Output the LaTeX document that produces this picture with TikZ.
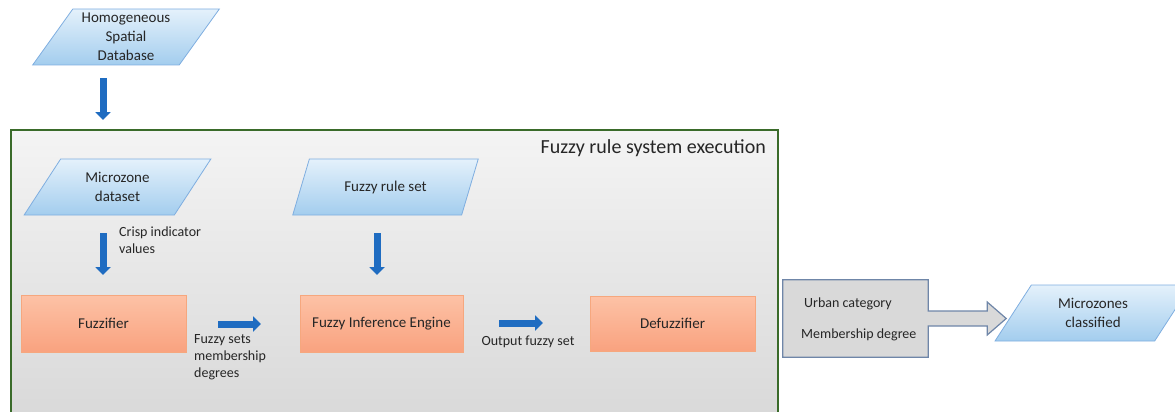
\documentclass[tikz,border=0pt]{standalone}
\usepackage{fontspec}
\setmainfont{Carlito}
\usetikzlibrary{shapes.geometric,arrows.meta,calc}
\definecolor{txt}{HTML}{262626}
\definecolor{parab}{HTML}{7FAEE0}
\definecolor{paratop}{HTML}{E4F1FB}
\definecolor{parabot}{HTML}{A3CDEE}
\definecolor{orb}{HTML}{F6A77E}
\definecolor{ortop}{HTML}{FDC2A6}
\definecolor{orbot}{HTML}{F9A27F}
\definecolor{arr}{HTML}{1F6CC1}
\definecolor{grn}{HTML}{3A6B2A}
\definecolor{gtop}{HTML}{F4F4F4}
\definecolor{gbot}{HTML}{D8D8D8}
\definecolor{outb}{HTML}{6F86A8}
\definecolor{outf}{HTML}{D9D9D9}
\begin{document}
\begin{tikzpicture}[x=1pt,y=-1pt,
  para/.style={trapezium, trapezium left angle=55, trapezium right angle=125,
    trapezium stretches=true, minimum width=187pt, minimum height=56pt,
    inner sep=0pt, draw=parab, line width=0.8pt, top color=paratop, bottom color=parabot,
    align=center, font=\fontsize{15}{19}\selectfont, text=txt},
  procbox/.style={rectangle, minimum width=165pt, minimum height=57pt, inner sep=0pt,
    draw=orb, line width=0.8pt, top color=ortop, bottom color=orbot,
    font=\fontsize{15}{19}\selectfont, text=txt},
  lbl/.style={inner sep=0pt, align=left, font=\fontsize{14}{17}\selectfont, text=txt},
  blockarrow/.style={draw=arr, line width=7pt, -{Triangle[width=15pt,length=8pt]}},
]
\useasboundingbox (0,0) rectangle (1175,412);
% main system box
\node[rectangle, draw=grn, line width=2pt, top color=gtop, bottom color=gbot,
  minimum width=767pt, minimum height=295pt, inner sep=0pt] (sys) at (394.5,277.5) {};
\node[inner sep=0pt, anchor=east, font=\fontsize{20}{24}\selectfont, text=txt] (title) at (766,148) {Fuzzy rule system execution};

% parallelograms
\node[para] (hsd) at (126,37) {Homogeneous\\Spatial\\Database};
\node[para] (mzd) at (117.5,187) {Microzone\\dataset};
\node[para] (frs) at (385.5,187) {Fuzzy rule set};
\node[para, minimum width=196pt] (mzc) at (1093,313) {Microzones\\classified};

% process boxes
\node[procbox] (fuzz) at (103.5,323.5) {Fuzzifier};
\node[procbox, minimum width=163pt] (fie) at (381.5,323.5) {Fuzzy Inference Engine};
\node[procbox, minimum height=55pt] (defz) at (672.5,323.5) {Defuzzifier};

% output box with block arrow
\node[rectangle, minimum width=145pt, minimum height=77pt, inner sep=0pt] (outbox) at (855.5,318.5) {};
\draw[draw=outb, fill=outf, line width=1.2pt]
  (outbox.north west) -- (outbox.north east) -- ($(outbox.east)+(0,-7.5)$)
  -- ($(outbox.east)+(59,-7.5)$) -- ($(outbox.east)+(59,-16.5)$)
  -- ($(outbox.east)+(78,0)$) -- ($(outbox.east)+(59,16.5)$)
  -- ($(outbox.east)+(59,7.5)$) -- ($(outbox.east)+(0,7.5)$)
  -- (outbox.south east) -- (outbox.south west) -- cycle;
\node[lbl, anchor=west] (uc) at (804,304) {Urban category};
\node[lbl, anchor=west] (md) at (801,335) {Membership degree};

% labels
\node[lbl, anchor=north west] (crisp) at (119,227) {Crisp indicator\\values};
\node[lbl, anchor=north west] (fsmd) at (194,334) {Fuzzy sets\\membership\\degrees};
\node[lbl] (ofs) at (528,342) {Output fuzzy set};

% arrows
\coordinate (a0s) at (103,78);
\coordinate (a0e) at (103,120);
\draw[blockarrow] (a0s) -- (a0e);
\coordinate (a1s) at ($(mzd.south)+(-14.5,18)$);
\draw[blockarrow] (a1s) -- (a1s |- 0,275);
\coordinate (a2s) at ($(frs.south)+(-8.5,18)$);
\draw[blockarrow] (a2s) -- (a2s |- 0,275);
\coordinate (a3s) at (218,324);
\coordinate (a3e) at (261,324);
\draw[blockarrow] (a3s) -- (a3e);
\coordinate (a4s) at (499,323);
\coordinate (a4e) at (543,323);
\draw[blockarrow] (a4s) -- (a4e);
\end{tikzpicture}
\end{document}
